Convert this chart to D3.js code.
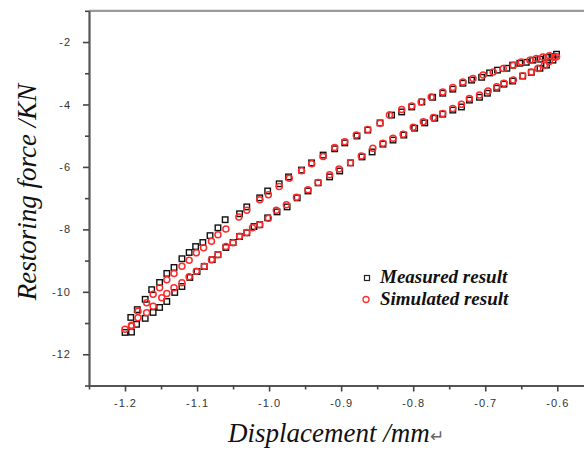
<!DOCTYPE html>
<html>
<head>
<meta charset="utf-8">
<script src="https://cdn.jsdelivr.net/npm/d3@7"></script>
<style>
html,body{margin:0;padding:0;background:#fff;}
svg{display:block;}
</style>
</head>
<body>
<svg id="chart" width="584" height="449"></svg>
<script>
// ---- data ----
const xMajorTicks = [-1.2, -1.1, -1.0, -0.9, -0.8, -0.7, -0.6];
const xMinorTicks = [-1.25, -1.15, -1.05, -0.95, -0.85, -0.75, -0.65, -0.55];
const yMajorTicks = [-2, -4, -6, -8, -10, -12];
const yMinorTicks = [-1, -3, -5, -7, -9, -11, -13];
const seriesNames = ["Measured result", "Simulated result"];

const measuredUpper = [[-1.200,-11.30],[-1.192,-10.82],[-1.183,-10.57],[-1.172,-10.24],[-1.163,-9.93],[-1.152,-9.70],[-1.142,-9.41],[-1.132,-9.22],[-1.121,-8.94],[-1.111,-8.74],[-1.102,-8.55],[-1.092,-8.42],[-1.082,-8.20],[-1.071,-7.95],[-1.061,-7.69],[-1.041,-7.50],[-1.031,-7.28],[-1.013,-6.99],[-1.002,-6.77],[-0.986,-6.54],[-0.973,-6.32],[-0.955,-6.10],[-0.941,-5.87],[-0.925,-5.62],[-0.909,-5.42],[-0.895,-5.23],[-0.878,-5.01],[-0.863,-4.82],[-0.846,-4.59],[-0.830,-4.34],[-0.816,-4.24],[-0.802,-4.08],[-0.788,-3.92],[-0.773,-3.77],[-0.759,-3.64],[-0.745,-3.51],[-0.731,-3.32],[-0.719,-3.22],[-0.705,-3.13],[-0.694,-2.99],[-0.683,-2.90],[-0.670,-2.84],[-0.662,-2.74],[-0.652,-2.68],[-0.643,-2.65],[-0.634,-2.58],[-0.624,-2.55],[-0.615,-2.49],[-0.606,-2.46],[-0.601,-2.39]];
const measuredLower = [[-1.191,-11.29],[-1.184,-11.04],[-1.172,-10.85],[-1.161,-10.66],[-1.152,-10.50],[-1.142,-10.31],[-1.131,-10.02],[-1.121,-9.83],[-1.110,-9.54],[-1.100,-9.35],[-1.090,-9.19],[-1.079,-8.97],[-1.071,-8.81],[-1.060,-8.58],[-1.050,-8.42],[-1.041,-8.23],[-1.031,-8.11],[-1.021,-7.91],[-1.013,-7.85],[-1.002,-7.63],[-0.989,-7.44],[-0.975,-7.28],[-0.961,-6.99],[-0.946,-6.77],[-0.932,-6.51],[-0.916,-6.32],[-0.902,-6.13],[-0.887,-5.87],[-0.871,-5.68],[-0.857,-5.52],[-0.842,-5.27],[-0.828,-5.14],[-0.813,-4.98],[-0.798,-4.76],[-0.784,-4.59],[-0.770,-4.44],[-0.759,-4.31],[-0.745,-4.18],[-0.733,-4.08],[-0.722,-3.86],[-0.708,-3.77],[-0.697,-3.64],[-0.684,-3.48],[-0.674,-3.35],[-0.662,-3.25],[-0.648,-3.09],[-0.636,-2.97],[-0.624,-2.84],[-0.615,-2.74],[-0.606,-2.58]];
const simulatedUpper = [[-1.200,-11.20],[-1.191,-11.10],[-1.182,-10.62],[-1.170,-10.35],[-1.161,-10.08],[-1.152,-9.87],[-1.142,-9.61],[-1.132,-9.41],[-1.121,-9.18],[-1.111,-8.99],[-1.101,-8.75],[-1.091,-8.59],[-1.080,-8.38],[-1.071,-8.17],[-1.060,-7.99],[-1.042,-7.60],[-1.031,-7.39],[-1.013,-7.05],[-1.001,-6.89],[-0.986,-6.63],[-0.972,-6.36],[-0.955,-6.12],[-0.941,-5.90],[-0.925,-5.67],[-0.909,-5.38],[-0.895,-5.19],[-0.879,-4.98],[-0.863,-4.80],[-0.846,-4.60],[-0.833,-4.34],[-0.816,-4.16],[-0.802,-4.05],[-0.789,-3.92],[-0.775,-3.76],[-0.759,-3.60],[-0.745,-3.46],[-0.731,-3.28],[-0.717,-3.17],[-0.703,-3.06],[-0.689,-2.96],[-0.675,-2.85],[-0.661,-2.74],[-0.650,-2.64],[-0.638,-2.58],[-0.629,-2.53],[-0.620,-2.48],[-0.611,-2.44],[-0.601,-2.47]];
const simulatedLower = [[-1.191,-11.07],[-1.182,-10.83],[-1.170,-10.67],[-1.161,-10.46],[-1.149,-10.19],[-1.142,-10.05],[-1.132,-9.87],[-1.121,-9.71],[-1.111,-9.52],[-1.101,-9.34],[-1.090,-9.18],[-1.080,-8.97],[-1.071,-8.81],[-1.060,-8.55],[-1.050,-8.43],[-1.041,-8.22],[-1.031,-8.10],[-1.023,-7.95],[-1.013,-7.85],[-1.001,-7.64],[-0.990,-7.39],[-0.976,-7.21],[-0.962,-6.97],[-0.946,-6.73],[-0.932,-6.50],[-0.916,-6.25],[-0.903,-6.07],[-0.887,-5.87],[-0.872,-5.65],[-0.856,-5.40],[-0.842,-5.24],[-0.828,-5.08],[-0.814,-4.95],[-0.800,-4.73],[-0.786,-4.55],[-0.772,-4.42],[-0.759,-4.29],[-0.745,-4.13],[-0.733,-3.99],[-0.722,-3.81],[-0.708,-3.70],[-0.696,-3.57],[-0.684,-3.43],[-0.674,-3.32],[-0.661,-3.22],[-0.648,-3.08],[-0.636,-2.96],[-0.627,-2.85],[-0.618,-2.74],[-0.611,-2.62],[-0.604,-2.49]];

(function () {
// ---- layout ----
const svg = d3.select("#chart");
const pL = 89, pR = 593.3, pT = 10.8, pB = 385.5;
const x = d3.scaleLinear().domain([-1.25, -0.55]).range([pL, pR]);
const y = d3.scaleLinear().domain([-13, -1]).range([pB, pT]);

const tickFont = "Arial, 'Liberation Sans', sans-serif";

// top frame line
svg.append("line").attr("x1", pL).attr("x2", pR + 5).attr("y1", pT).attr("y2", pT)
  .attr("stroke", "#9a9a9a").attr("stroke-width", 2.2);

// x axis
const gx = svg.append("g").attr("transform", `translate(0,${pB})`);
gx.call(d3.axisBottom(x).tickValues(xMinorTicks).tickSize(4).tickFormat("").tickSizeOuter(0));
gx.selectAll(".tick line").attr("stroke", "#444").attr("stroke-width", 1.6);
gx.select(".domain").attr("stroke", "#555").attr("stroke-width", 2.2);
const gx2 = svg.append("g").attr("transform", `translate(0,${pB})`);
gx2.call(d3.axisBottom(x).tickValues(xMajorTicks).tickSize(6).tickPadding(8).tickSizeOuter(0)
  .tickFormat(d => d3.format(".1f")(d).replace("\u2212", "-")));
gx2.select(".domain").remove();
gx2.selectAll(".tick line").attr("stroke", "#444").attr("stroke-width", 1.6);
gx2.selectAll(".tick text").attr("font-family", tickFont).attr("font-size", 11)
  .attr("letter-spacing", 1).attr("fill", "#333");

// y axis
const gy = svg.append("g").attr("transform", `translate(${pL},0)`);
gy.call(d3.axisLeft(y).tickValues(yMinorTicks).tickSize(4).tickFormat("").tickSizeOuter(0));
gy.selectAll(".tick line").attr("stroke", "#444").attr("stroke-width", 1.6);
gy.select(".domain").attr("stroke", "#555").attr("stroke-width", 2.2);
const gy2 = svg.append("g").attr("transform", `translate(${pL},0)`);
gy2.call(d3.axisLeft(y).tickValues(yMajorTicks).tickSize(6).tickPadding(12).tickSizeOuter(0)
  .tickFormat(d => String(d)));
gy2.select(".domain").remove();
gy2.selectAll(".tick line").attr("stroke", "#444").attr("stroke-width", 1.6);
gy2.selectAll(".tick text").attr("font-family", tickFont).attr("font-size", 11)
  .attr("letter-spacing", 1).attr("fill", "#333");

// axis titles
const titleFont = "'Liberation Serif', 'Times New Roman', serif";
svg.append("text").attr("transform", `translate(36,192) rotate(-90)`)
  .attr("text-anchor", "middle").attr("font-family", titleFont).attr("font-style", "italic")
  .attr("font-size", 27).attr("fill", "#111").text("Restoring force /KN");
const xt = svg.append("text").attr("x", 228).attr("y", 442)
  .attr("font-family", titleFont).attr("font-style", "italic")
  .attr("font-size", 27).attr("fill", "#111");
xt.append("tspan").text("Displacement /mm");
xt.append("tspan").attr("font-size", 17).attr("font-style", "normal").attr("fill", "#666").text("\u21B5");

// data marks
const sq = 5.5;
function squares(data) {
  svg.append("g").selectAll("rect").data(data).join("rect")
    .attr("x", d => x(d[0]) - sq / 2).attr("y", d => y(d[1]) - sq / 2)
    .attr("width", sq).attr("height", sq)
    .attr("fill", "none").attr("stroke", "#111").attr("stroke-width", 1.4);
}
function circles(data) {
  svg.append("g").selectAll("circle").data(data).join("circle")
    .attr("cx", d => x(d[0])).attr("cy", d => y(d[1])).attr("r", 3)
    .attr("fill", "none").attr("stroke", "#ff2a2a").attr("stroke-width", 1.5);
}
squares(measuredUpper);
squares(measuredLower);
circles(simulatedUpper);
circles(simulatedLower);

// legend
const legFont = "'Liberation Serif', 'Times New Roman', serif";
svg.append("rect").attr("x", 367 - 2.5).attr("y", 278 - 2.5).attr("width", 5).attr("height", 5)
  .attr("fill", "none").attr("stroke", "#222").attr("stroke-width", 1.2);
svg.append("circle").attr("cx", 366).attr("cy", 299.5).attr("r", 3)
  .attr("fill", "none").attr("stroke", "#ff3030").attr("stroke-width", 1.3);
svg.append("text").attr("x", 380).attr("y", 283).attr("font-family", legFont)
  .attr("font-style", "italic").attr("font-weight", "bold").attr("font-size", 19)
  .attr("fill", "#111").text(seriesNames[0]);
svg.append("text").attr("x", 380).attr("y", 305).attr("font-family", legFont)
  .attr("font-style", "italic").attr("font-weight", "bold").attr("font-size", 19)
  .attr("fill", "#111").text(seriesNames[1]);
})();
</script>
</body>
</html>
